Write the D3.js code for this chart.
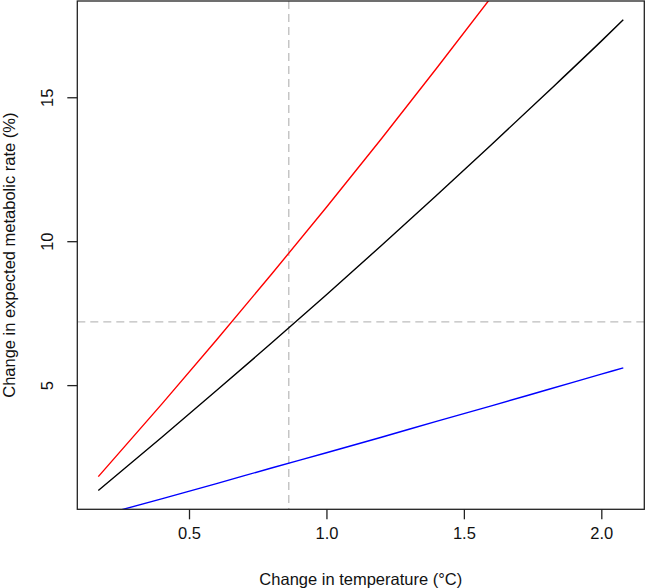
<!DOCTYPE html>
<html>
<head>
<meta charset="utf-8">
<script src="https://cdn.jsdelivr.net/npm/d3@7"></script>
<style>
  body { margin: 0; background: #fff; }
  svg { display: block; font-family: "Liberation Sans", Arial, sans-serif; }
</style>
</head>
<body>
<svg id="canvas"></svg>
<script>
// temperature change (°C) and % change in expected metabolic rate
let temps = [0.17, 0.4, 0.6, 0.8, 1.0, 1.2, 1.4, 1.6, 1.8, 2.0, 2.08]
let rateMid = [1.34, 3.18, 4.81, 6.46, 8.14, 9.85, 11.59, 13.35, 15.14, 16.95, 17.69]
let rateHigh = [1.82, 4.33, 6.57, 8.85, 11.18, 13.56, 16.00, 18.48, 21.02, 23.61, 24.67]
let rateLow = [0.45, 1.05, 1.58, 2.12, 2.65, 3.19, 3.74, 4.28, 4.83, 5.38, 5.60]

let xTicks = [0.5, 1.0, 1.5, 2.0]
let yTicks = [5, 10, 15]
let refTemp = 0.863
let refRate = 7.2

const width = 646
const height = 588
const box = { left: 77.3, right: 644.3, top: 1, bottom: 509.3 }
const fontSize = 16.5

// R style 4% padding on the plotted (black) series
let xr = [d3.min(temps), d3.max(temps)]
let yr = [d3.min(rateMid), d3.max(rateMid)]
let xPad = (xr[1] - xr[0]) * 0.04
let yPad = (yr[1] - yr[0]) * 0.04

let xScale = d3.scaleLinear().domain([xr[0] - xPad, xr[1] + xPad]).range([box.left, box.right])
let yScale = d3.scaleLinear().domain([yr[0] - yPad, yr[1] + yPad]).range([box.bottom, box.top])

let canvas = d3.select('#canvas').attr('width', width).attr('height', height)

canvas.append('clipPath').attr('id', 'clip')
    .append('rect')
    .attr('x', box.left).attr('y', box.top)
    .attr('width', box.right - box.left).attr('height', box.bottom - box.top)

let plot = canvas.append('g').attr('clip-path', 'url(#clip)')

// reference lines
plot.append('line')
    .attr('x1', xScale(refTemp)).attr('x2', xScale(refTemp))
    .attr('y1', box.top).attr('y2', box.bottom)
    .attr('stroke', '#bdbdbd').attr('stroke-width', 1.3)
    .attr('stroke-dasharray', '8,5')
plot.append('line')
    .attr('x1', box.left).attr('x2', box.right)
    .attr('y1', yScale(refRate)).attr('y2', yScale(refRate))
    .attr('stroke', '#bdbdbd').attr('stroke-width', 1.3)
    .attr('stroke-dasharray', '8,5')

let line = d3.line()
    .x((d, i) => xScale(temps[i]))
    .y(d => yScale(d))
    .curve(d3.curveMonotoneX)

let series = [
    { values: rateMid, color: 'black' },
    { values: rateHigh, color: 'red' },
    { values: rateLow, color: 'blue' }
]

plot.selectAll('path.series')
    .data(series)
    .enter()
    .append('path')
    .attr('class', 'series')
    .attr('d', s => line(s.values))
    .attr('fill', 'none')
    .attr('stroke', s => s.color)
    .attr('stroke-width', 1.4)

// box
canvas.append('rect')
    .attr('x', box.left).attr('y', box.top)
    .attr('width', box.right - box.left).attr('height', box.bottom - box.top)
    .attr('fill', 'none').attr('stroke', '#222').attr('stroke-width', 1.3)

// axes
let xAxis = d3.axisBottom(xScale).tickValues(xTicks).tickFormat(d3.format('.1f')).tickSize(10).tickPadding(8)
let yAxis = d3.axisLeft(yScale).tickValues(yTicks).tickFormat(d3.format('d')).tickSize(10)

let gx = canvas.append('g').attr('transform', `translate(0,${box.bottom})`).call(xAxis)
gx.select('.domain').remove()
gx.selectAll('line').attr('stroke', '#222').attr('stroke-width', 1.3)
gx.selectAll('text').attr('font-size', fontSize).attr('fill', '#111').attr('font-family', null)

let gy = canvas.append('g').attr('transform', `translate(${box.left},0)`).call(yAxis)
gy.select('.domain').remove()
gy.selectAll('line').attr('stroke', '#222').attr('stroke-width', 1.3)
gy.selectAll('text')
    .attr('font-size', fontSize).attr('fill', '#111').attr('font-family', null)
    .attr('x', null).attr('dy', null)
    .attr('text-anchor', 'middle')
    .attr('transform', 'translate(-24,0) rotate(-90)')

// titles
canvas.append('text')
    .attr('x', (box.left + box.right) / 2).attr('y', 585)
    .attr('text-anchor', 'middle').attr('font-size', fontSize).attr('fill', '#111')
    .text('Change in temperature (°C)')

canvas.append('text')
    .attr('transform', `translate(15,${(box.top + box.bottom) / 2}) rotate(-90)`)
    .attr('text-anchor', 'middle').attr('font-size', fontSize).attr('fill', '#111')
    .text('Change in expected metabolic rate (%)')
</script>
</body>
</html>
